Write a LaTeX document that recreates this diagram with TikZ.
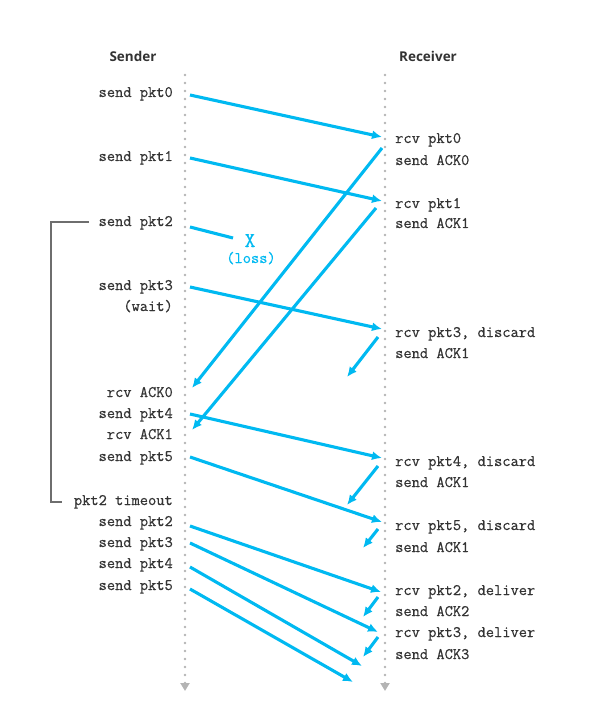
\documentclass[tikz,border=0pt]{standalone}
\usepackage{fontspec}
\usetikzlibrary{arrows.meta}
\newfontfamily\monofnt{Latin Modern Mono}[FakeBold=0.6]
\newfontfamily\headfnt{Open Sans}
\definecolor{pktblue}{HTML}{00B9F1}
\definecolor{linegray}{HTML}{B4B4B4}
\definecolor{txtgray}{HTML}{333333}
\definecolor{brgray}{HTML}{6E6E6E}

\tikzset{
  hdr/.style={font=\headfnt\bfseries\fontsize{13.5}{15}\selectfont, text=txtgray, anchor=base, inner sep=0pt},
  sndlbl/.style={font=\monofnt\fontsize{16}{18}\selectfont, text=txtgray, anchor=base east, inner sep=0pt},
  rcvlbl/.style={sndlbl, anchor=base west},
  pkt/.style={->, line width=3.1pt, draw=pktblue},
  timeline/.style={linegray, line width=2.8pt, line cap=round, dash pattern=on 0pt off 8pt},
}

\begin{document}
\begin{tikzpicture}[x=1pt, y=-1pt, >={Latex[length=10pt,width=9pt]}]
  \useasboundingbox (0,0) rectangle (596,703);

  % time lines
  \coordinate (stop) at (185,75);
  \coordinate (sbot) at (185,691);
  \coordinate (rtop) at (385,75);
  \coordinate (rbot) at (385,691);
  \draw[timeline, -{Triangle[length=8pt,width=9pt]}] (stop) -- (sbot);
  \draw[timeline, -{Triangle[length=8pt,width=9pt]}] (rtop) -- (rbot);

  \node[hdr] (sender) at (133,62) {Sender};
  \node[hdr] (receiver) at (428,62) {Receiver};

  % sender side
  \foreach \n/\y/\t in {
      s0/97/send pkt0, s1/161/send pkt1, s2/226/send pkt2,
      s3/290/send pkt3, sw/311/(wait), sa0/397/rcv ACK0,
      s4/418/send pkt4, sa1/439/rcv ACK1, s5/461/send pkt5,
      sto/505/pkt2 timeout, r2/526/send pkt2, r3/547/send pkt3,
      r4/568/send pkt4, r5/590/send pkt5} {
      \node[sndlbl] (\n) at (173,\y) {\t};
    }

  % receiver side
  \foreach \n/\y/\t in {
      q0/143/rcv pkt0, k0/165/send ACK0, q1/208/rcv pkt1, k1/228/send ACK1,
      q3/337/{rcv pkt3, discard}, k3/358/send ACK1,
      q4/466/{rcv pkt4, discard}, k4/487/send ACK1,
      q5/530/{rcv pkt5, discard}, k5/552/send ACK1,
      d2/595/{rcv pkt2, deliver}, a2/616/send ACK2,
      d3/637/{rcv pkt3, deliver}, a3/659/send ACK3} {
      \node[rcvlbl] (\n) at (395,\y) {\t};
    }

  % end points of the arrows
  \foreach \n/\x/\y in {
      p0a/190/95, p0b/382/137, p1a/190/158, p1b/382/201,
      p2a/190/227, p2b/233/238, p3a/190/287, p3b/382/329,
      c0a/382/148, c0b/192/388, c1a/376/208, c1b/192/430,
      c3a/378/337, c3b/347/377,
      p4a/190/414, p4b/382/458, c4a/378/466, c4b/347/505,
      p5a/190/457, p5b/382/522, c5a/378/529, c5b/363/548,
      t2a/190/526, t2b/381/592, e2a/378/597, e2b/363/617,
      t3a/190/543, t3b/378/632, e3a/378/637, e3b/363/657,
      t4a/190/567, t4b/362/666, t5a/190/589, t5b/353/682} {
      \coordinate (\n) at (\x,\y);
    }

  \foreach \a/\b in {
      p0a/p0b, p1a/p1b, p3a/p3b, c0a/c0b, c1a/c1b, c3a/c3b,
      p4a/p4b, c4a/c4b, p5a/p5b, c5a/c5b,
      t2a/t2b, e2a/e2b, t3a/t3b, e3a/e3b, t4a/t4b, t5a/t5b} {
      \draw[pkt] (\a) -- (\b);
    }

  % lost packet
  \draw[line width=3.1pt, pktblue] (p2a) -- (p2b);
  \node[font=\monofnt\fontsize{21}{23}\selectfont, text=pktblue, anchor=base, inner sep=0pt] (lossx) at (250,247) {X};
  \node[font=\monofnt\fontsize{16}{18}\selectfont, text=pktblue, anchor=base, inner sep=0pt] (loss) at (251,263) {(loss)};

  % timer bracket
  \coordinate (brtop) at (89,222);
  \coordinate (brbot) at (62,502);
  \draw[brgray, line width=1.1pt] (brtop) -- ++(-38,0) |- (brbot);
\end{tikzpicture}
\end{document}
